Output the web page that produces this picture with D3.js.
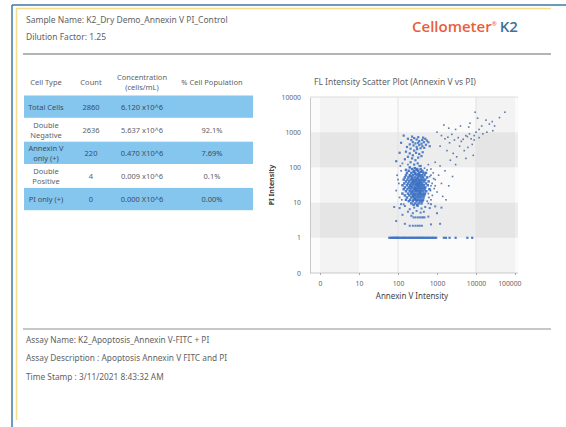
<!DOCTYPE html>
<html>
<head>
<meta charset="utf-8">
<script src="https://cdn.jsdelivr.net/npm/d3@7"></script>
<style>
  html, body { margin: 0; padding: 0; background: #fff; }
  svg { display: block; font-family: "Noto Sans", sans-serif; }
</style>
</head>
<body>
<svg id="report" width="566" height="427"></svg>
<script>
// header / footer texts
const headerLines = ["Sample Name: K2_Dry Demo_Annexin V PI_Control", "Dilution Factor: 1.25"];
const footerLines = [
  "Assay Name:  K2_Apoptosis_Annexin V-FITC + PI",
  "Assay Description : Apoptosis Annexin V FITC and PI",
  "Time Stamp : 3/11/2021 8:43:32 AM",
];

// table
const tableHeaders = [["Cell Type"], ["Count"], ["Concentration", "(cells/mL)"], ["% Cell Population"]];
const cellTypes = [["Total Cells"], ["Double", "Negative"], ["Annexin V", "only (+)"], ["Double", "Positive"], ["PI only (+)"]];
const counts = [2860, 2636, 220, 4, 0];
const concentrations = ["6.120 x10^6", "5.637 x10^6", "0.470 X10^6", "0.009 x10^6", "0.000 X10^6"];
const percents = ["", "92.1%", "7.69%", "0.1%", "0.00%"];
const highlighted = [true, false, true, false, true];

// scatter axes
const xTicks = [1, 10, 100, 1000, 10000, 100000];
const xTickLabels = ["0", "10", "100", "1000", "10000", "100000"];
const yTicks = [0.1, 1, 10, 100, 1000, 10000];
const yTickLabels = ["0", "1", "10", "100", "1000", "10000"];

// shaded bands of the plot background (value ranges)
const rowBands = [[1, 10], [100, 1000]];
const colBands = [[1, 10], [10000, 100000]];

// scatter points [annexin V, PI]
const corePoints = [
  [230,90],[310,90],[380,90],[270,95],[200,100],
  [190,80],[260,80],[330,80],[420,80],[160,85],[300,85],
  [170,70],[220,70],[280,70],[350,70],[450,70],[520,70],[250,75],[390,75],
  [160,60],[200,60],[240,60],[300,60],[360,60],[410,60],[480,60],[330,65],[270,64],
  [150,52],[185,52],[230,52],[270,52],[320,52],[390,52],[440,52],[560,52],[210,56],[350,56],
  [140,45],[175,45],[210,45],[250,45],[290,45],[340,45],[380,45],[430,45],[500,45],[230,48],[310,48],
  [160,40],[195,40],[235,40],[275,40],[310,40],[355,40],[400,40],[470,40],[610,40],[260,42],
  [145,35],[180,35],[215,35],[255,35],[295,35],[330,35],[370,35],[420,35],[520,35],[240,37],[350,37],
  [130,31],[170,31],[205,31],[240,31],[280,31],[320,31],[360,31],[410,31],[460,31],[580,31],[300,33],
  [150,27],[190,27],[225,27],[265,27],[300,27],[345,27],[390,27],[440,27],[500,27],[210,29],[330,29],
  [140,24],[175,24],[210,24],[250,24],[285,24],[325,24],[370,24],[420,24],[480,24],[640,24],[270,25.5],
  [160,21],[200,21],[235,21],[270,21],[310,21],[350,21],[395,21],[450,21],[530,21],[290,22.5],
  [130,18],[180,18],[215,18],[255,18],[295,18],[335,18],[380,18],[430,18],[490,18],[230,19.5],[360,19.5],
  [150,16],[195,16],[240,16],[280,16],[320,16],[360,16],[410,16],[470,16],[260,17],
  [170,14],[220,14],[265,14],[305,14],[345,14],[390,14],[450,14],[240,15],
  [160,12],[205,12],[250,12],[290,12],[330,12],[380,12],[440,12],[270,13],
  [190,11],[240,11],[300,11],[360,11],[420,11],
  [220,9.5],[280,9.5],[340,9.5],[400,9.5],[310,8.5],[250,8.7],
];
const fringePoints = [
  [95,60],[105,35],[90,22],[110,14],[100,45],[120,80],[115,110],[130,130],
  [700,60],[750,35],[680,22],[820,48],[760,16],[620,14],[900,30],[560,11],
  [125,12],[140,9],[600,9.5],[700,12],[480,95],[560,85],[180,120],[350,110],
];
const upperClusterPoints = [
  [180,650],[220,600],[260,680],[300,620],[350,560],[420,600],[500,650],[550,580],
  [240,520],[280,480],[330,500],[400,470],[460,520],[200,450],[250,420],[300,380],
  [350,430],[420,400],[520,440],[170,380],[210,340],[260,300],[310,330],[380,350],
  [470,360],[160,280],[200,250],[240,220],[290,260],[350,240],[430,270],[180,200],
  [230,180],[280,160],[330,190],[400,210],[150,170],[210,140],[260,120],[320,130],
  [380,110],[230,750],[330,720],[440,700],[600,520],[650,400],
  [120,500],[110,260],[140,800],[90,150],
];
const lowPoints = [
  [80,7.5],[110,7],[150,8],[200,6.5],[260,7.2],[320,8],[400,6.8],[500,7.5],[650,7],
  [900,7.8],[1300,7.2],[180,5.5],[240,5],[300,5.8],[380,5.2],[460,5.5],[130,4.5],
  [220,4.2],[250,3.8],[280,3.8],[320,3.8],[360,3.8],[400,3.8],[440,3.8],[480,3.8],
  [600,4],[200,2.2],[240,2.2],[280,2.2],[320,2.2],[360,2.2],[410,2.2],[150,2.5],
  [700,2.4],[1200,2.5],[90,3],[1000,5],[700,9],[120,9],
];
const midRightPoints = [
  [600,120],[700,90],[800,70],[650,55],[900,45],[1100,60],[1300,35],[700,30],[850,25],
  [1000,20],[1400,15],[600,18],[1700,12],[2000,30],[1600,80],[1200,110],[2500,55],
  [900,140],[3000,120],[2200,160],
];
const upperRightPoints = [
  [1000,1000],[1300,800],[1600,650],[1900,720],[2400,870],[2100,500],[2800,600],
  [3500,700],[4200,550],[4700,630],[5500,800],[6000,750],[6800,900],[7500,650],
  [3800,400],[6200,370],[5000,300],[8000,450],[9000,800],[10000,1000],[12000,1200],
  [15000,900],[19000,1000],[27000,1100],[30000,1500],[26000,2000],[9500,3700],
  [55000,3700],[14000,1500],[3000,1200],[2000,1300],[1500,1600],[4000,1500],
  [7000,1800],[11000,2500],[18000,2200],[40000,2600],[1800,300],[2600,250],
  [1200,400],[3200,200],[5500,180],[8500,220],[6500,1400],[9000,600],[12000,700],
  [22000,1700],
];
const baselinePoints = [
  [60,1],[65,1],[70,1],[75,1],[80,1],[85,1],[90,1],[95,1],[100,1],[108,1],[115,1],
  [125,1],[135,1],[145,1],[155,1],[165,1],[180,1],[195,1],[210,1],[225,1],[240,1],
  [260,1],[280,1],[300,1],[320,1],[345,1],[370,1],[400,1],[430,1],[460,1],[500,1],
  [540,1],[580,1],[630,1],[680,1],[740,1],[800,1],[870,1],[950,1],
  [1500,1],[1700,1],[2100,1],[3000,1],[6000,1],[8000,1],
];

const svg = d3.select("#report");
const textGray = "#626262";

// ---- page frame ----
svg.append("line").attr("x1", 12).attr("y1", 5).attr("x2", 566).attr("y2", 5)
  .attr("stroke", "#3d7aa8").attr("stroke-width", 1.5);
svg.append("line").attr("x1", 12).attr("y1", 5).attr("x2", 12).attr("y2", 427)
  .attr("stroke", "#3d7aa8").attr("stroke-width", 1.5);
svg.append("line").attr("x1", 16).attr("y1", 8.5).attr("x2", 551).attr("y2", 8.5)
  .attr("stroke", "#f6dc8a").attr("stroke-width", 1.5);
svg.append("line").attr("x1", 16.5).attr("y1", 8).attr("x2", 16.5).attr("y2", 420)
  .attr("stroke", "#f6dc8a").attr("stroke-width", 1.5);

// ---- header ----
svg.selectAll(".hdr")
  .data(headerLines)
  .enter()
  .append("text")
  .attr("class", "hdr")
  .attr("x", 26)
  .attr("y", (d, i) => 23 + i * 17)
  .attr("font-size", 8.5)
  .attr("fill", textGray)
  .text((d) => d);

const logo = svg.append("text").attr("x", 412).attr("y", 32)
  .attr("font-family", "Open Sans, sans-serif")
  .attr("font-size", 15).attr("font-weight", 600);
logo.append("tspan").attr("fill", "#e8603a").text("Cellometer");
logo.append("tspan").attr("fill", "#e8603a").attr("font-size", 6).attr("dy", -6).text("®");
logo.append("tspan").attr("fill", "#3a72a0").attr("dy", 6).attr("dx", 3).text("K2");

svg.append("line").attr("x1", 23).attr("y1", 54).attr("x2", 551).attr("y2", 54)
  .attr("stroke", "#b4b4b4").attr("stroke-width", 2);

// ---- table ----
const colX = [46, 91, 142, 212];
const rowTop = 95.5;
const rowH = 23.1;

tableHeaders.forEach((lines, c) => {
  lines.forEach((t, k) => {
    svg.append("text")
      .attr("x", colX[c])
      .attr("y", lines.length > 1 ? 80 + k * 10 : 85)
      .attr("text-anchor", "middle")
      .attr("font-size", 7.5)
      .attr("fill", textGray)
      .text(t);
  });
});

const rows = svg.selectAll(".row")
  .data(cellTypes)
  .enter()
  .append("g")
  .attr("class", "row")
  .attr("transform", (d, i) => `translate(0,${rowTop + i * rowH})`);

rows.append("rect")
  .attr("x", 24)
  .attr("width", 229)
  .attr("height", rowH - 0.8)
  .attr("fill", (d, i) => (highlighted[i] ? "#84c6ee" : "#fff"));

rows.each(function (lines, i) {
  const g = d3.select(this);
  const col = highlighted[i] ? "#3e4d5e" : textGray;
  const mid = rowH / 2;
  lines.forEach((t, k) => {
    g.append("text")
      .attr("x", colX[0])
      .attr("y", lines.length > 1 ? mid - 2 + k * 10 : mid + 2.5)
      .attr("text-anchor", "middle")
      .attr("font-size", 7.5)
      .attr("fill", col)
      .text(t);
  });
  [counts[i], concentrations[i], percents[i]].forEach((t, c) => {
    g.append("text")
      .attr("x", colX[c + 1])
      .attr("y", mid + 2.5)
      .attr("text-anchor", "middle")
      .attr("font-size", 7.5)
      .attr("fill", col)
      .text(t);
  });
});

// ---- scatter plot ----
const plot = { left: 310, right: 518, top: 97, bottom: 273 };
const x = d3.scaleLog().domain([1, 100000]).range([320, 515]);
const y = d3.scaleLog().domain([0.1, 10000]).range([plot.bottom, plot.top]);
const xLo = x.invert(plot.left);
const xHi = x.invert(plot.right);

svg.append("text")
  .attr("x", 395).attr("y", 85)
  .attr("text-anchor", "middle")
  .attr("font-size", 8.5)
  .attr("fill", textGray)
  .text("FL Intensity Scatter Plot (Annexin V vs PI)");

const pg = svg.append("g");
pg.append("rect")
  .attr("x", plot.left).attr("y", plot.top)
  .attr("width", plot.right - plot.left).attr("height", plot.bottom - plot.top)
  .attr("fill", "#fbfbfb");

pg.selectAll(".rband")
  .data(rowBands)
  .enter()
  .append("rect")
  .attr("x", plot.left)
  .attr("width", plot.right - plot.left)
  .attr("y", (d) => y(d[1]))
  .attr("height", (d) => y(d[0]) - y(d[1]))
  .attr("fill", "#000")
  .attr("opacity", 0.055);

pg.selectAll(".cband")
  .data(colBands)
  .enter()
  .append("rect")
  .attr("x", (d) => x(Math.max(d[0], xLo)))
  .attr("width", (d) => x(Math.min(d[1], xHi)) - x(Math.max(d[0], xLo)))
  .attr("y", plot.top)
  .attr("height", plot.bottom - plot.top)
  .attr("fill", "#000")
  .attr("opacity", 0.03);

pg.selectAll(".vgrid")
  .data([100, 10000])
  .enter()
  .append("line")
  .attr("x1", (d) => x(d)).attr("x2", (d) => x(d))
  .attr("y1", plot.top).attr("y2", plot.bottom)
  .attr("stroke", "#e2e2e2");

pg.append("line")
  .attr("x1", plot.left).attr("x2", plot.right)
  .attr("y1", plot.top).attr("y2", plot.top)
  .attr("stroke", "#dcdcdc");

// axes
const yAxis = svg.append("g")
  .attr("transform", `translate(${plot.left},0)`)
  .call(d3.axisLeft(y).tickValues(yTicks).tickFormat((d, i) => yTickLabels[i]).tickSize(0).tickPadding(9));
const xAxis = svg.append("g")
  .attr("transform", `translate(0,${plot.bottom})`)
  .call(d3.axisBottom(x).tickValues(xTicks).tickFormat((d, i) => xTickLabels[i]).tickSize(2).tickPadding(6));
xAxis.select(".domain").attr("d", `M${plot.left},0H${plot.right}`);
[yAxis, xAxis].forEach((a) => {
  a.select(".domain").attr("stroke", "#c8c8c8");
  a.selectAll(".tick line").attr("stroke", "#aaa");
  a.selectAll("text").attr("font-size", 6.8).attr("fill", "#666")
    .attr("font-family", "Noto Sans, sans-serif");
});
xAxis.selectAll(".tick text")
  .filter((d) => d === 100000)
  .attr("text-anchor", "end")
  .attr("dx", plot.right - x(100000) + 3);

svg.append("text")
  .attr("x", 412).attr("y", 299)
  .attr("text-anchor", "middle")
  .attr("font-size", 8)
  .attr("fill", "#444")
  .text("Annexin V Intensity");
svg.append("text")
  .attr("transform", `translate(274,185) rotate(-90)`)
  .attr("text-anchor", "middle")
  .attr("font-size", 7)
  .attr("font-weight", "bold")
  .attr("fill", "#444")
  .text("PI Intensity");

// points
const groups = [
  { pts: upperRightPoints, fill: "#4d6d9c", size: 1.6, op: 0.9 },
  { pts: midRightPoints, fill: "#4d6d9c", size: 1.6, op: 0.9 },
  { pts: fringePoints, fill: "#4a70b0", size: 1.7, op: 0.9 },
  { pts: lowPoints, fill: "#3f72c0", size: 2, op: 0.85 },
  { pts: upperClusterPoints, fill: "#3f72c0", size: 2.2, op: 0.9 },
  { pts: corePoints, fill: "#3a6fc2", size: 2.5, op: 0.9 },
  { pts: baselinePoints, fill: "#3f72c6", size: 2.2, op: 0.95 },
];
groups.forEach((grp) => {
  svg.append("g")
    .selectAll("rect")
    .data(grp.pts)
    .enter()
    .append("rect")
    .attr("x", (d) => x(d[0]) - grp.size / 2)
    .attr("y", (d) => y(d[1]) - grp.size / 2)
    .attr("width", grp.size)
    .attr("height", grp.size)
    .attr("fill", grp.fill)
    .attr("opacity", grp.op);
});

// ---- footer ----
svg.append("line").attr("x1", 23).attr("y1", 329).attr("x2", 551).attr("y2", 329)
  .attr("stroke", "#b4b4b4").attr("stroke-width", 1.5);
svg.selectAll(".ftr")
  .data(footerLines)
  .enter()
  .append("text")
  .attr("class", "ftr")
  .attr("x", 26)
  .attr("y", (d, i) => [343, 361, 380][i])
  .attr("font-size", 8.3)
  .attr("fill", textGray)
  .text((d) => d);
</script>
</body>
</html>
